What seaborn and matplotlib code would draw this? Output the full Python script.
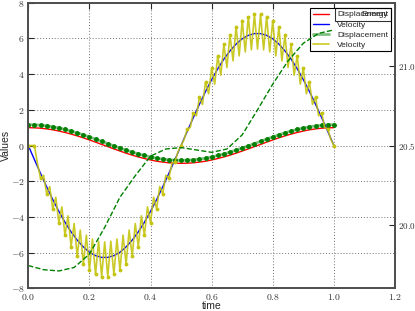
import numpy as np
import matplotlib
matplotlib.use("Agg")
import matplotlib.pyplot as plt
import seaborn as sns
from matplotlib.ticker import FuncFormatter

# time grids
t_coarse = np.linspace(0, 1, 51)
t_fine = np.linspace(0, 1, 101)
t_energy = np.linspace(0, 1, 21)

# values
displacement = [1.00, 0.99, 0.97, 0.93, 0.88, 0.81, 0.73, 0.64, 0.54, 0.43, 0.31, 0.19, 0.06,
                -0.06, -0.19, -0.31, -0.43, -0.54, -0.64, -0.73, -0.81, -0.88, -0.93, -0.97, -0.99, -1.00,
                -0.99, -0.97, -0.93, -0.88, -0.81, -0.73, -0.64, -0.54, -0.43, -0.31, -0.19, -0.06,
                0.06, 0.19, 0.31, 0.43, 0.54, 0.64, 0.73, 0.81, 0.88, 0.93, 0.97, 0.99, 1.00]
velocity = [0.00, -0.79, -1.56, -2.31, -3.03, -3.69, -4.30, -4.84, -5.30, -5.68, -5.98, -6.17, -6.27,
            -6.27, -6.17, -5.98, -5.68, -5.30, -4.84, -4.30, -3.69, -3.03, -2.31, -1.56, -0.79, 0.00,
            0.79, 1.56, 2.31, 3.03, 3.69, 4.30, 4.84, 5.30, 5.68, 5.98, 6.17, 6.27,
            6.27, 6.17, 5.98, 5.68, 5.30, 4.84, 4.30, 3.69, 3.03, 2.31, 1.56, 0.79, 0.00]
displacement_meas = [1.17, 1.16, 1.14, 1.10, 1.05, 0.98, 0.90, 0.81, 0.71, 0.60, 0.48, 0.36, 0.23,
                     0.11, -0.02, -0.14, -0.26, -0.37, -0.47, -0.56, -0.64, -0.71, -0.76, -0.80, -0.82, -0.83,
                     -0.82, -0.80, -0.76, -0.71, -0.64, -0.56, -0.47, -0.37, -0.26, -0.14, -0.02, 0.11,
                     0.23, 0.36, 0.48, 0.60, 0.71, 0.81, 0.90, 0.98, 1.05, 1.10, 1.14, 1.16, 1.17]
velocity_meas = [0.00, 0.00, 0.00, -1.01, -1.83, -1.67, -2.70, -2.30, -3.55, -2.90, -4.32, -3.44, -5.03,
                 -3.94, -5.66, -4.37, -6.20, -4.74, -6.65, -5.02, -7.00, -5.24, -7.22, -5.36, -7.34,
                 -5.40, -7.34, -5.36, -7.22, -5.24, -7.00, -5.02, -6.65, -4.74, -6.20, -4.37, -5.66,
                 -3.94, -5.03, -3.44, -4.32, -2.90, -3.55, -2.30, -2.70, -1.67, -1.83, -1.01, -0.92, -0.34,
                 0.00,
                 0.34, 0.92, 1.01, 1.83, 1.67, 2.70, 2.30, 3.55, 2.90, 4.32, 3.44, 5.03, 3.94, 5.66,
                 4.37, 6.20, 4.74, 6.65, 5.02, 7.00, 5.24, 7.22, 5.36, 7.34, 5.40, 7.34, 5.36, 7.22,
                 5.24, 7.00, 5.02, 6.65, 4.74, 6.20, 4.37, 5.66, 3.94, 5.03, 3.44, 4.32, 2.90, 3.55,
                 2.30, 2.70, 1.67, 1.83, 1.01, 0.92, 0.34, 0.00]
energy = [19.745, 19.719, 19.711, 19.733, 19.817, 19.985, 20.175, 20.310, 20.433, 20.478, 20.487,
          20.472, 20.457, 20.478, 20.567, 20.724, 20.886, 21.032, 21.143, 21.205, 21.227]

x_ticks = [0.0, 0.2, 0.4, 0.6, 0.8, 1.0, 1.2]
y_ticks = [-8, -6, -4, -2, 0, 2, 4, 6, 8]
energy_ticks = [20.0, 20.5, 21.0]

sns.set_style("white")
plt.rcParams["mathtext.fontset"] = "cm"
plt.rcParams["font.family"] = ["Liberation Sans", "DejaVu Sans"]

fig = plt.figure(figsize=(4.15, 3.11), dpi=100)
ax = fig.add_axes([0.0682, 0.073, 0.8836, 0.9183])

yellow = "#c4c410"

sns.lineplot(x=t_coarse, y=displacement, ax=ax, color="r", lw=1.0, legend=False, label="Displacement")
sns.lineplot(x=t_coarse, y=velocity, ax=ax, color="b", lw=1.0, legend=False, label="Velocity")
sns.lineplot(x=t_coarse, y=displacement_meas, ax=ax, color="g", alpha=0.5, lw=2.0,
             legend=False, label="Displacement")
sns.lineplot(x=t_coarse, y=displacement_meas, ax=ax, color="g", lw=0, marker="o", ms=2.7,
             mec="g", legend=False)
sns.lineplot(x=t_fine, y=velocity_meas, ax=ax, color=yellow, lw=1.2, alpha=0.9,
             legend=False, label="Velocity")
sns.lineplot(x=t_fine, y=velocity_meas, ax=ax, color=yellow, lw=0, marker="o", ms=2.0,
             mec=yellow, markevery=2, legend=False)

lines = ax.get_lines()
handles = [lines[0], lines[1], lines[2], lines[4]]
leg1 = ax.legend(handles=handles, labels=["Displacement", "Velocity", "Displacement", "Velocity"],
                 loc="upper right", bbox_to_anchor=(0.988, 0.981), borderaxespad=0,
                 fontsize=6, fancybox=False, framealpha=1, edgecolor="k",
                 handlelength=1.9, handletextpad=1.0, borderpad=0.3, labelspacing=0.28)
leg1.get_frame().set_linewidth(0.8)

ax.set_xlim(0, 1.2)
ax.set_ylim(-8, 8)
ax.set_xticks(x_ticks)
ax.set_yticks(y_ticks)
ax.xaxis.set_major_formatter(FuncFormatter(lambda v, p: f"${v:.1f}$"))
ax.yaxis.set_major_formatter(FuncFormatter(lambda v, p: f"${v:.0f}$"))
ax.grid(True, color="0.45", ls=(0, (1, 2)), lw=0.7)
ax.tick_params(direction="in", length=4, width=0.8, labelsize=7, pad=2.5,
               labelcolor="0.2", top=True, right=True)
ax.set_xlabel("time", fontsize=7.5)
ax.set_ylabel("Values", fontsize=7.5)
ax.xaxis.set_label_coords(0.5, -0.043)
ax.yaxis.set_label_coords(-0.047, 0.5)

ax2 = ax.twinx()
sns.lineplot(x=t_energy, y=energy, ax=ax2, color="g", lw=1.0, ls="--", dashes=(4, 3),
             legend=False, label="Energy")
ax2.set_ylim(19.602, 21.398)
ax2.set_yticks(energy_ticks)
ax2.yaxis.set_major_formatter(FuncFormatter(lambda v, p: f"${v:.1f}$"))
ax2.tick_params(direction="in", length=4, width=0.8, labelsize=6.5, pad=2, labelcolor="0.2")
ax2.set_ylabel("")
leg2 = ax2.legend(handles=[plt.Line2D([], [], ls="none")], labels=["Energy"],
                  loc="upper right", bbox_to_anchor=(0.988, 0.981), borderaxespad=0,
                  fontsize=6, fancybox=False, facecolor="none", framealpha=None, edgecolor="k",
                  handlelength=1.9, handletextpad=1.0, borderpad=0.3)
leg2.get_frame().set_linewidth(0.8)

for a in (ax, ax2):
    for s in a.spines.values():
        s.set_color("0.3")
        s.set_linewidth(1.2)

fig.savefig("out.png", dpi=100)
